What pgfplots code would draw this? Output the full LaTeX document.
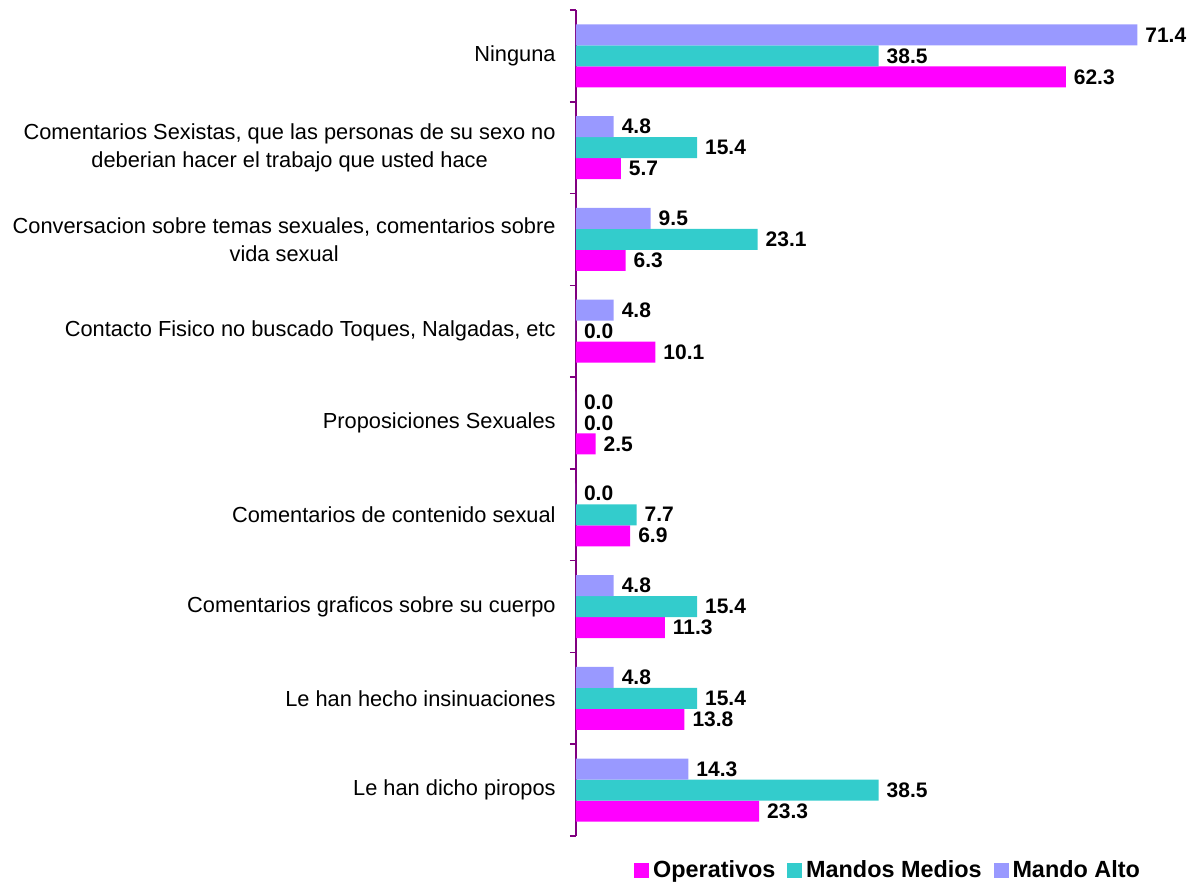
\documentclass[border=0pt]{standalone}
\usepackage{fontspec}
\setmainfont{Liberation Sans}
\usepackage{pgfplots}
\pgfplotsset{compat=1.18}
\definecolor{oper}{HTML}{FF00FF}
\definecolor{medios}{HTML}{33CCCC}
\definecolor{alto}{HTML}{9999FF}
\definecolor{axispurple}{HTML}{800080}

\begin{document}
\begin{tikzpicture}[font=\fontsize{10.9}{14}\selectfont]
  \begin{axis}[
    scale only axis, width=307pt, height=413pt,
    xbar=0pt, bar width=10.5pt,
    xmin=0, xmax=78.1, ymin=-0.5, ymax=8.5,
    hide x axis,
    axis y line*=left,
    y axis line style={draw=axispurple, line width=0.8pt},
    ytick={0,...,8},
    yticklabels={
      {Le han dicho piropos},
      {Le han hecho insinuaciones},
      {Comentarios graficos sobre su cuerpo},
      {Comentarios de contenido sexual},
      {Proposiciones Sexuales},
      {Contacto Fisico no buscado Toques, Nalgadas, etc},
      {Conversacion sobre temas sexuales, comentarios sobre\\vida sexual},
      {Comentarios Sexistas, que las personas de su sexo no\\deberian hacer el trabajo que usted hace},
      {Ninguna}},
    yticklabel style={align=center, font=\fontsize{10.9}{14}\selectfont, inner sep=0pt, xshift=-10pt},
    major tick length=0pt,
    minor ytick={-0.5,0.5,...,8.5},
    minor tick length=3pt,
    tick align=outside,
    minor tick style={draw=axispurple, line width=0.8pt},
    clip=false,
    nodes near coords,
    every node near coord/.append style={font=\fontsize{10.5}{12}\selectfont\bfseries, text=black, xshift=0.5pt},
    /pgf/number format/.cd, fixed, fixed zerofill, precision=1, assume math mode=true,
    /pgfplots/.cd,
    legend style={at={(0.51,-0.042)}, anchor=center, draw=none, fill=none,
                  legend columns=3, font=\fontsize{11.7}{13}\selectfont\bfseries,
                  /tikz/every even column/.append style={column sep=4pt}},
    legend image code/.code={\fill[#1] (0pt,-3.7pt) rectangle (7.4pt,3.7pt);},
  ]
    \addplot[draw=none, fill=oper] coordinates {
      (23.3,0) (13.8,1) (11.3,2) (6.9,3) (2.5,4) (10.1,5) (6.3,6) (5.7,7) (62.3,8)};
    \addplot[draw=none, fill=medios] coordinates {
      (38.5,0) (15.4,1) (15.4,2) (7.7,3) (0.0,4) (0.0,5) (23.1,6) (15.4,7) (38.5,8)};
    \addplot[draw=none, fill=alto] coordinates {
      (14.3,0) (4.8,1) (4.8,2) (0.0,3) (0.0,4) (4.8,5) (9.5,6) (4.8,7) (71.4,8)};
    \legend{Operativos, Mandos Medios, Mando Alto}
  \end{axis}
  \pgfresetboundingbox
  \path (-288pt,-25pt) rectangle (310pt,418pt);
\end{tikzpicture}
\end{document}
